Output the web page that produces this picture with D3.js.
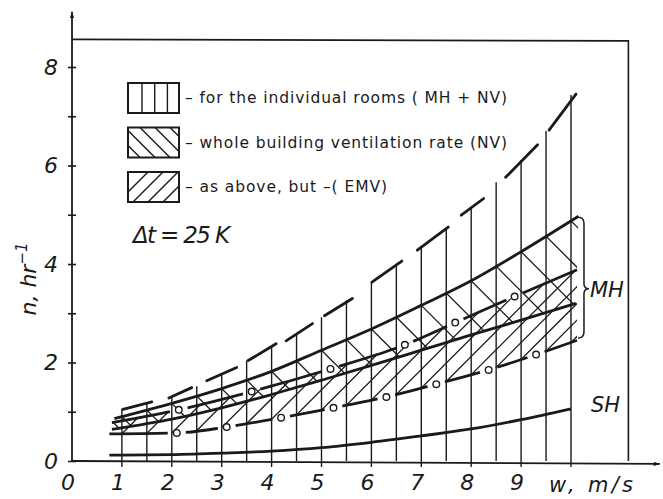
<!DOCTYPE html>
<html>
<head>
<meta charset="utf-8">
<script src="https://cdn.jsdelivr.net/npm/d3@7"></script>
<style>
  body { margin: 0; background: #fff; }
  text { font-family: "DejaVu Sans", sans-serif; fill: #1a1a1a; }
</style>
</head>
<body>
<div id="chart"></div>
<script>
var width = 663;
var height = 499;

// wind speeds of the vertical hatching (individual rooms) and their tops
var wGrid = [1, 1.5, 2, 2.5, 3, 3.5, 4, 4.5, 5, 5.5, 6, 6.5, 7, 7.5, 8, 8.5, 9, 9.5, 10];
var roomsTop = [1.06, 1.18, 1.3, 1.52, 1.77, 2.04, 2.33, 2.6, 2.92, 3.26, 3.63, 4.01, 4.32, 4.72, 5.15, 5.66, 6.11, 6.7, 7.43];
// dashes of the upper boundary: [w0, n0, w1, n1]
var roomsDashes = [
  [1.02, 1.05, 1.6, 1.2], [1.94, 1.28, 2.4, 1.49], [2.7, 1.63, 3.3, 1.9],
  [3.53, 2.04, 4.09, 2.38], [4.29, 2.44, 4.82, 2.79], [5.06, 2.95, 5.62, 3.3],
  [6.01, 3.63, 6.61, 4.06], [6.92, 4.28, 7.54, 4.75], [7.8, 4.99, 8.25, 5.33],
  [8.69, 5.76, 9.33, 6.42], [9.56, 6.72, 10.1, 7.45]
];

// whole building, natural ventilation (NV) band
var nvTopW = [0.85, 1, 2, 3, 4, 5, 6, 7, 8, 9, 10.15];
var nvTopN = [0.86, 0.9, 1.17, 1.47, 1.82, 2.25, 2.68, 3.16, 3.66, 4.25, 4.97];
var nvMidW = [0.8, 2.14, 3.6, 5.18, 6.67, 7.68, 8.87, 10.12];
var nvMidN = [0.78, 1.04, 1.41, 1.87, 2.36, 2.81, 3.34, 3.88];
var nvLowW = [0.8, 2, 3, 4, 5, 6, 7, 8, 9, 10.1];
var nvLowN = [0.64, 0.85, 1.08, 1.35, 1.64, 1.94, 2.25, 2.56, 2.86, 3.2];

// as above, but EMV: lower boundary
var emvLowW = [0.75, 2.1, 3.1, 4.19, 5.24, 6.3, 7.3, 8.35, 9.3, 10.12];
var emvLowN = [0.55, 0.57, 0.69, 0.88, 1.08, 1.3, 1.56, 1.85, 2.16, 2.45];

// SH curve
var shW = [0.75, 1, 2, 3, 4, 5, 6, 7, 8, 9, 10];
var shN = [0.12, 0.12, 0.13, 0.16, 0.2, 0.27, 0.38, 0.51, 0.65, 0.84, 1.06];

var yTicks = [0, 1, 2, 3, 4, 5, 6, 7, 8];
var xTicks = [1, 2, 3, 4, 5, 6, 7, 8, 9, 10];
var xLabels = [0, 1, 2, 3, 4, 5, 6, 7, 8, 9];
var legendLabels = [
  "\u2013 for the individual rooms ( MH + NV)",
  "\u2013 whole building ventilation rate (NV)",
  "\u2013 as above, but \u2013( EMV)"
];

function zip(ws, ns) {
  return ws.map(function (w, i) { return [w, ns[i]]; });
}

var xScale = d3.scaleLinear().domain([0, 10]).range([72, 571]);
var yScale = d3.scaleLinear().domain([0, 8]).range([461, 67]);

var svg = d3.select("#chart").append("svg")
  .attr("width", width)
  .attr("height", height);

var defs = svg.append("defs");
defs.append("marker")
  .attr("id", "arrow")
  .attr("viewBox", "0 0 10 10")
  .attr("refX", 9).attr("refY", 5)
  .attr("markerWidth", 7).attr("markerHeight", 7)
  .attr("markerUnits", "userSpaceOnUse")
  .attr("orient", "auto")
  .append("path")
  .attr("d", "M0,2 L10,5 L0,8 Z")
  .attr("fill", "#1a1a1a");

var line = d3.line()
  .x(function (d) { return xScale(d[0]); })
  .y(function (d) { return yScale(d[1]); })
  .curve(d3.curveMonotoneX);
var lineStraight = d3.line()
  .x(function (d) { return xScale(d[0]); })
  .y(function (d) { return yScale(d[1]); });

// band clip made of a top curve and a bottom curve
function bandClip(id, top, bottom) {
  var pts = top.concat(bottom.slice().reverse());
  defs.append("clipPath").attr("id", id)
    .append("path")
    .attr("d", lineStraight(pts) + "Z");
}

var nvTop = zip(nvTopW, nvTopN);
var nvMid = zip(nvMidW, nvMidN);
var nvLow = zip(nvLowW, nvLowN);
var emvLow = zip(emvLowW, emvLowN);

bandClip("nvBand", nvTop, nvLow);
bandClip("emvBand", nvMid, emvLow);

var topAt = d3.scaleLinear().domain(nvTopW).range(nvTopN).clamp(true);
var emvAt = d3.scaleLinear().domain(emvLowW).range(emvLowN).clamp(true);

// "\" hatching of the NV band
var hatchNV = svg.append("g").attr("clip-path", "url(#nvBand)");
var hatchW = wGrid.concat([0.75]);
hatchNV.selectAll("line")
  .data(hatchW)
  .enter()
  .append("line")
  .attr("x1", function (d) { return xScale(d) - 40; })
  .attr("y1", function (d) { return yScale(topAt(d)) - 40; })
  .attr("x2", function (d) { return xScale(d) + 160; })
  .attr("y2", function (d) { return yScale(topAt(d)) + 160; })
  .attr("stroke", "#1a1a1a")
  .attr("stroke-width", 1.3);

// "/" hatching of the EMV band
var hatchEMV = svg.append("g").attr("clip-path", "url(#emvBand)");
hatchEMV.selectAll("line")
  .data(wGrid)
  .enter()
  .append("line")
  .attr("x1", function (d) { return xScale(d) - 40; })
  .attr("y1", function (d) { return yScale(emvAt(d)) + 40; })
  .attr("x2", function (d) { return xScale(d) + 160; })
  .attr("y2", function (d) { return yScale(emvAt(d)) - 160; })
  .attr("stroke", "#1a1a1a")
  .attr("stroke-width", 1.3);

// vertical hatching: individual rooms
svg.append("g").selectAll("line")
  .data(wGrid)
  .enter()
  .append("line")
  .attr("x1", function (d) { return xScale(d); })
  .attr("x2", function (d) { return xScale(d); })
  .attr("y1", yScale(0))
  .attr("y2", function (d, i) { return yScale(roomsTop[i]); })
  .attr("stroke", "#1a1a1a")
  .attr("stroke-width", 1.4);

svg.append("g").selectAll("line")
  .data(roomsDashes)
  .enter()
  .append("line")
  .attr("x1", function (d) { return xScale(d[0]); })
  .attr("y1", function (d) { return yScale(d[1]); })
  .attr("x2", function (d) { return xScale(d[2]); })
  .attr("y2", function (d) { return yScale(d[3]); })
  .attr("stroke", "#1a1a1a")
  .attr("stroke-width", 2.8)
  .attr("stroke-linecap", "round");

// solid curves
[nvTop, nvLow, zip(shW, shN)].forEach(function (pts) {
  svg.append("path")
    .datum(pts)
    .attr("d", line)
    .attr("fill", "none")
    .attr("stroke", "#1a1a1a")
    .attr("stroke-width", 2.8);
});

// dashed curves broken by small circles
function lengthAtX(node, total, tx) {
  var lo = 0, hi = total;
  for (var k = 0; k < 30; k++) {
    var m = (lo + hi) / 2;
    if (node.getPointAtLength(m).x < tx) lo = m; else hi = m;
  }
  return lo;
}

function circleLine(pts, circleIdx) {
  var gap = 9;
  var path = svg.append("path")
    .datum(pts)
    .attr("d", line)
    .attr("fill", "none")
    .attr("stroke", "#1a1a1a")
    .attr("stroke-width", 2.8);
  var node = path.node();
  var total = node.getTotalLength();
  var dash = [];
  var pos = 0;
  circleIdx.forEach(function (i) {
    var L = lengthAtX(node, total, xScale(pts[i][0]));
    dash.push(Math.max(0, L - gap - pos), 2 * gap);
    pos = L + gap;
  });
  dash.push(Math.max(0, total - pos), total);
  path.attr("stroke-dasharray", dash.join(" "));

  svg.append("g").selectAll("circle")
    .data(circleIdx.map(function (i) { return pts[i]; }))
    .enter()
    .append("circle")
    .attr("cx", function (d) { return xScale(d[0]); })
    .attr("cy", function (d) { return yScale(d[1]); })
    .attr("r", 3.3)
    .attr("fill", "#fff")
    .attr("stroke", "#1a1a1a")
    .attr("stroke-width", 1.4);
}

circleLine(nvMid, [1, 2, 3, 4, 5, 6]);
circleLine(emvLow, [1, 2, 3, 4, 5, 6, 7, 8]);

// brace grouping the MH curves
var bx0 = xScale(10.14), bx1 = xScale(10.26), btip = xScale(10.36);
var bTop = yScale(4.95), bMid = yScale(3.5), bBot = yScale(2.5);
svg.append("path")
  .attr("d", "M" + bx0 + "," + bTop +
    " Q" + bx1 + "," + bTop + " " + bx1 + "," + (bTop + 6) +
    " L" + bx1 + "," + (bMid - 5) +
    " Q" + bx1 + "," + bMid + " " + btip + "," + bMid +
    " Q" + bx1 + "," + bMid + " " + bx1 + "," + (bMid + 5) +
    " L" + bx1 + "," + (bBot - 6) +
    " Q" + bx1 + "," + bBot + " " + bx0 + "," + bBot)
  .attr("fill", "none")
  .attr("stroke", "#1a1a1a")
  .attr("stroke-width", 1.5);

svg.append("text")
  .attr("x", xScale(10.38)).attr("y", yScale(3.5) + 8)
  .style("font-size", "21px").style("font-style", "italic")
  .text("MH");
svg.append("text")
  .attr("x", xScale(10.4)).attr("y", yScale(1.0))
  .style("font-size", "21px").style("font-style", "italic")
  .text("SH");

// frame
svg.append("path")
  .attr("d", "M" + xScale(0) + "," + yScale(8.56) +
    " L" + xScale(11.15) + "," + yScale(8.53) +
    " L" + xScale(11.15) + "," + yScale(0))
  .attr("fill", "none")
  .attr("stroke", "#1a1a1a")
  .attr("stroke-width", 1.6);

// axes
svg.append("line")
  .attr("x1", xScale(0)).attr("y1", yScale(0))
  .attr("x2", xScale(0)).attr("y2", yScale(9.12))
  .attr("stroke", "#1a1a1a").attr("stroke-width", 1.8)
  .attr("marker-end", "url(#arrow)");
svg.append("line")
  .attr("x1", xScale(0)).attr("y1", yScale(0))
  .attr("x2", xScale(11.78)).attr("y2", yScale(-0.06))
  .attr("stroke", "#1a1a1a").attr("stroke-width", 1.8)
  .attr("marker-end", "url(#arrow)");

var yAxis = d3.axisLeft(yScale)
  .tickValues(yTicks)
  .tickSize(4)
  .tickPadding(10)
  .tickFormat(function (d) { return d % 2 === 0 ? d : ""; });
var gy = svg.append("g")
  .attr("transform", "translate(" + xScale(0) + ",0)")
  .call(yAxis);
gy.select(".domain").remove();
gy.selectAll(".tick line").attr("x1", -4).attr("x2", 4)
  .attr("stroke", "#1a1a1a").attr("stroke-width", 1.6);
gy.selectAll(".tick text")
  .style("font-size", "22px")
  .style("font-family", "'DejaVu Sans', sans-serif")
  .style("font-style", "italic")
  .attr("fill", "#1a1a1a");

svg.append("g").selectAll("line")
  .data(xTicks)
  .enter()
  .append("line")
  .attr("x1", function (d) { return xScale(d); })
  .attr("x2", function (d) { return xScale(d); })
  .attr("y1", yScale(0))
  .attr("y2", yScale(0) + 6)
  .attr("stroke", "#1a1a1a")
  .attr("stroke-width", 1.4);

svg.append("g").selectAll("text")
  .data(xLabels)
  .enter()
  .append("text")
  .attr("x", function (d) { return xScale(d) - 4; })
  .attr("y", 490)
  .attr("text-anchor", "middle")
  .style("font-size", "22px")
  .style("font-style", "italic")
  .text(function (d) { return d; });

svg.append("text")
  .attr("x", 549).attr("y", 492)
  .attr("textLength", 84)
  .attr("lengthAdjust", "spacing")
  .style("font-size", "21px")
  .style("font-style", "italic")
  .text("w, m/s");

svg.append("text")
  .attr("transform", "translate(36,279) rotate(-90)")
  .attr("text-anchor", "middle")
  .style("font-size", "22px")
  .style("font-style", "italic")
  .text("n, hr")
  .append("tspan")
  .attr("dy", -9)
  .style("font-size", "15px")
  .text("\u22121");

// legend
var legend = svg.append("g");
legendLabels.forEach(function (label, i) {
  var ly = 83 + i * 44.5;
  var cid = "legclip" + i;
  defs.append("clipPath").attr("id", cid)
    .append("rect").attr("x", 128).attr("y", ly).attr("width", 51).attr("height", 30);
  var hatch = legend.append("g").attr("clip-path", "url(#" + cid + ")");
  [0, 1, 2, 3, 4].forEach(function (k) {
    if (i === 0) {
      if (k < 3) {
        hatch.append("line")
          .attr("x1", 142 + k * 12.7).attr("x2", 142 + k * 12.7)
          .attr("y1", ly).attr("y2", ly + 30);
      }
    } else if (i === 1) {
      hatch.append("line")
        .attr("x1", 110 + k * 15).attr("y1", ly)
        .attr("x2", 140 + k * 15).attr("y2", ly + 30);
    } else {
      hatch.append("line")
        .attr("x1", 118 + k * 15).attr("y1", ly + 30)
        .attr("x2", 148 + k * 15).attr("y2", ly);
    }
  });
  hatch.selectAll("line").attr("stroke", "#1a1a1a").attr("stroke-width", 1.4);
  legend.append("rect")
    .attr("x", 128).attr("y", ly).attr("width", 51).attr("height", 30)
    .attr("fill", "none").attr("stroke", "#1a1a1a").attr("stroke-width", 2);
  legend.append("text")
    .attr("x", 185).attr("y", ly + 20)
    .attr("textLength", i === 2 ? 202 : 322)
    .attr("lengthAdjust", "spacing")
    .style("font-size", "15.5px")
    .text(label);
});

svg.append("text")
  .attr("x", 133).attr("y", 243)
  .attr("textLength", 97)
  .attr("lengthAdjust", "spacing")
  .style("font-size", "23px")
  .style("font-style", "italic")
  .text("\u0394t = 25 K");
</script>
</body>
</html>
